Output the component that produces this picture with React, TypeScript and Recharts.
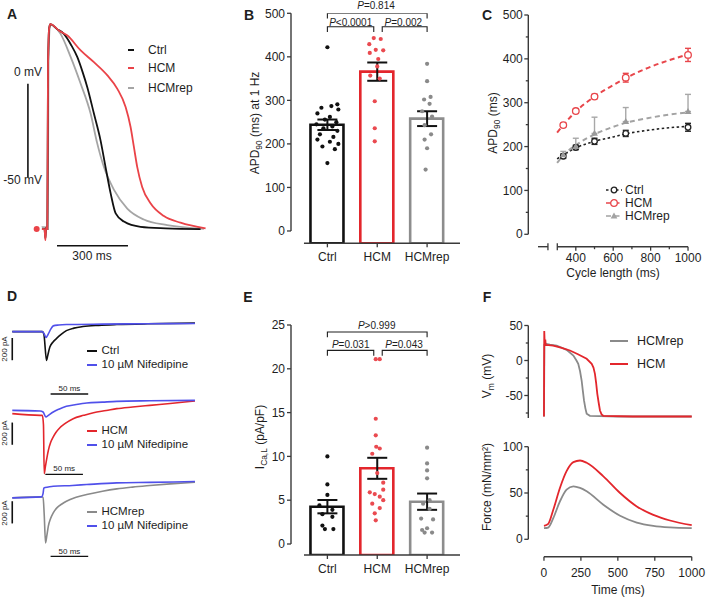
import React from 'react';
import {
  ComposedChart, LineChart, Line, Bar, Cell, Scatter, ErrorBar, XAxis, YAxis, ReferenceLine,
} from 'recharts';

const FONT = '"Liberation Sans", Arial, Helvetica, sans-serif';
const INK = '#1e1e1e';
const AXIS = '#3a3a3a';
const RED = '#e3262c';
const BLUE = '#5050ea';

// ---------- A: action potentials [t (ms), Vm (mV)]
const AP_CTRL = [[-45, -78], [-12, -78], [-8, -83], [-5, -77], [0, -78], [3, 10], [8, 30], [13, 32], [40, 29.5], [70, 26.8], [100, 21], [127, 14.3], [150, 6], [169, -1.8], [197, -16], [225, -30.4], [246, -44.6], [268, -59], [289, -69.6], [324, -74], [394, -76.8], [500, -77.6], [648, -78]];
const AP_HCM = [[-45, -78], [-12, -78], [-8, -84], [-5, -77], [0, -78], [3, 10], [8, 30], [13, 32], [50, 28.5], [85, 25.9], [141, 17.9], [197, 11.6], [254, 4.5], [296, -2.7], [331, -12.5], [352, -23.2], [366, -33.9], [380, -44.6], [401, -55.4], [437, -64.3], [493, -71], [563, -74.6], [669, -77.7]];
const AP_REP = [[-45, -77], [-12, -77], [-8, -80], [-5, -77], [2, -78], [5, 10], [10, 30], [14, 31.8], [56, 26.8], [99, 14.3], [141, 0], [183, -16], [211, -32], [239, -44.6], [282, -57], [338, -67], [408, -72.9], [507, -75.9], [662, -77.9]];
const AP_SCALE_MV = 50;
const AP_SCALE_MS = 300;

// ---------- B: APD90 at 1 Hz (ms)
const GROUPS = ['Ctrl', 'HCM', 'HCMrep'];
const B_MEAN = [244, 366, 258];
const B_SEM = [12, 21, 17];
const B_CTRL = [422, 291, 287, 283, 279, 270, 262, 256, 250, 245, 240, 236, 230, 222, 216, 210, 205, 200, 194, 188, 156];
const B_HCM = [443, 441, 429, 416, 415, 409, 395, 378, 357, 350, 298, 236, 206];
const B_REP = [384, 344, 308, 302, 292, 275, 263, 243, 222, 210, 190, 141];
const B_JIT = [
  [0, 0.2, 0.08, -0.12, 0.22, -0.2, 0.05, -0.05, 0.18, -0.22, 0.1, -0.08, 0.2, -0.15, 0.12, -0.2, 0.05, 0.22, -0.1, 0.15, 0],
  [-0.07, 0.07, -0.16, -0.03, 0.12, -0.15, 0.02, 0, -0.14, 0.05, -0.05, -0.05, -0.05],
  [0, 0, 0.07, -0.06, 0.05, -0.1, 0.1, -0.05, 0.08, -0.05, 0, -0.03],
];
const B_BRACKETS = [[1, 1.93, 469, 457], [2.1, 3, 469, 457], [1, 3, 500, 488]];
const B_P = ['<0.0001', '=0.002', '=0.814'];

// ---------- C: APD90 vs cycle length
const CL = [333, 400, 500, 667, 1000];
const C_CTRL = [178, 198, 212, 230, 244];
const C_CTRL_ERR = [5, 5, 7, 7, 9];
const C_HCM = [249, 281, 314, 357, 409];
const C_HCM_ERR = [4, 4, 5, 10, 15];
const C_REP = [181, 200, 230, 257, 280];
const C_REP_ERR_UP = [8, 19, 37, 32, 39];
const FIT_X = [300, 333, 400, 500, 600, 667, 800, 900, 1000];
const FIT_CTRL = [172, 181, 197, 212, 222, 229, 238, 243, 246];
const FIT_HCM = [232, 249, 280, 314, 340, 356, 382, 397, 410];
const FIT_REP = [163, 180, 203, 228, 245, 254, 266, 273, 278];

// ---------- D: I_Ca,L traces [t (ms), I (pA)]
const I_CTRL = [[0, 0], [40, 0], [42, -20], [45.6, -260], [47, -220], [50, -138], [54, -95], [59, -61], [65, -25], [72, 9], [82, 32], [94, 46], [115, 57], [139, 64], [180, 71], [243, 77]];
const I_CTRL_NIF = [[0, 0], [40, 0], [42, -15], [45, -51], [48, -20], [51, 20], [54.5, 52], [62, 60], [72, 64], [120, 68], [180, 71], [243, 73]];
const I_HCM = [[0, 0], [37, -15], [40, -15], [41.5, -100], [42.5, -540], [44, -480], [46, -400], [48, -330], [51, -260], [54.5, -210], [58, -170], [63, -129], [70, -90], [81, -45], [95, -15], [108, 9], [125, 28], [139, 45], [160, 60], [183, 75], [210, 92], [243, 114]];
const I_HCM_NIF = [[0, 30], [37, 24], [41, 15], [44.7, -30], [48, -15], [54.5, 15], [62, 40], [72, 66], [85, 82], [99, 96], [120, 104], [139, 111], [183, 116], [243, 120]];
const I_REP = [[0, 0], [39, 9], [41, 5], [42.5, -150], [44.3, -405], [46, -340], [48, -255], [51, -185], [54.5, -135], [60, -85], [66, -55], [72, -30], [85, 5], [99, 30], [120, 60], [139, 81], [160, 97], [183, 111], [210, 126], [243, 141]];
const I_REP_NIF = [[0, 0], [39, 9], [41, 40], [42, 90], [48, 98], [54.5, 105], [80, 112], [99, 120], [139, 135], [183, 140], [243, 147]];
const D_SCALE_PA = 200;
const D_SCALE_MS = 50;

// ---------- E: I_Ca,L density (pA/pF)
const E_MEAN = [4.26, 8.64, 4.83];
const E_SEM = [0.76, 1.2, 0.93];
const E_CTRL = [10.0, 6.8, 5.6, 4.4, 3.9, 3.4, 3.1, 2.1, 1.7, 1.7];
const E_HCM = [21.1, 21.1, 14.3, 12.4, 11.1, 10.9, 10.3, 8.1, 7.0, 6.2, 5.9, 5.7, 5.4, 5.0, 4.6, 4.1, 3.5, 2.7];
const E_REP = [11.0, 9.2, 8.4, 7.5, 5.0, 4.6, 4.0, 2.9, 2.8, 1.8, 1.6, 1.3, 1.3];
const E_JIT = [
  [0, 0, 0, -0.16, 0.1, -0.1, 0.1, -0.1, -0.05, 0.12],
  [-0.03, 0.05, -0.03, -0.03, -0.02, 0.05, -0.1, 0, 0.12, 0.12, -0.15, -0.05, 0.05, 0.12, -0.1, 0.05, -0.05, -0.03],
  [0, 0, 0, 0, 0.05, -0.08, 0.05, -0.12, 0.12, 0, -0.1, -0.05, 0.1],
];
const E_BRACKETS = [[1, 1.93, 22.1, 21.5], [2.1, 3, 22.1, 21.5], [1, 3, 24.2, 23.6]];
const E_P = ['=0.031', '=0.043', '>0.999'];

// ---------- F: model Vm and force [t (ms), value]
const VM_HCM = [[0, -80], [2, 42], [4, 30], [6, 22], [9, 30], [12, 22], [30, 22], [63, 21.4], [120, 18], [176, 14.3], [230, 9], [289, 2.4], [323, -4.8], [335, -10], [345, -19], [353, -32], [361, -47.6], [370, -60], [379, -71.4], [390, -77], [401, -79], [600, -80], [1000, -80]];
const VM_REP = [[0, -80], [3, 23], [10, 24], [40, 22.5], [86, 21.4], [153, 15.2], [199, 7.1], [220, 0], [232, -4.8], [244, -15], [255, -28.6], [263, -43], [271, -57], [280, -68], [289, -76], [311, -79], [500, -80], [1000, -80]];
const FORCE_HCM = [[0, 14.5], [29, 16.7], [63, 31.9], [108, 55.4], [153, 73.6], [199, 83.3], [244, 85.1], [289, 82.6], [402, 68], [515, 50], [628, 35.5], [740, 26.4], [853, 20.3], [1000, 15.2]];
const FORCE_REP = [[0, 12], [29, 12.7], [63, 22.8], [108, 40.9], [153, 53.6], [199, 57.2], [244, 55.5], [289, 51.8], [402, 37.3], [515, 25.4], [628, 18.1], [740, 14.5], [853, 12.8], [1000, 12]];

const xy = (arr: number[][]) => arr.map(([t, v]) => ({ t, v }));

// tick drawn by hand so minor ticks and the axis break can be shorter / crossing
function AxisTick(props: any) {
  const { x, y, payload, side, fmt, minor = [], brk = [], gap = 2 } = props;
  const v = payload.value;
  const isMinor = minor.includes(v);
  const isBrk = brk.includes(v);
  const len = isMinor ? 2.5 : 4;
  const label = isMinor || isBrk ? null : fmt ? fmt(v) : String(v);
  if (side === 'left') {
    return (
      <g>
        <line x1={x - len} x2={x} y1={y} y2={y} stroke={AXIS} strokeWidth={1.3} />
        {label !== null && (
          <text x={x - len - gap} y={y} dy="0.35em" textAnchor="end" fontSize={12} fontFamily={FONT} fill={INK}>{label}</text>
        )}
      </g>
    );
  }
  return (
    <g>
      <line x1={x} x2={x} y1={isBrk ? y - 3.5 : y} y2={y + (isBrk ? 3.5 : len)} stroke={AXIS} strokeWidth={1.3} />
      {label !== null && (
        <text x={x} y={y + len + gap} dy="0.71em" textAnchor="middle" fontSize={12} fontFamily={FONT} fill={INK}>{label}</text>
      )}
    </g>
  );
}

function Txt({ x, y, children, size = 12, anchor = 'middle', rotate = false, bold = false, color = INK }: any) {
  const tx = anchor === 'middle' ? '-50%' : anchor === 'end' ? '-100%' : '0%';
  return (
    <div
      style={{
        position: 'absolute', left: x, top: y, whiteSpace: 'nowrap', fontSize: size, lineHeight: 1,
        fontWeight: bold ? 700 : 400, color, fontFamily: FONT,
        transform: `translate(${tx}, -50%)${rotate ? ' rotate(-90deg)' : ''}`,
      }}
    >
      {children}
    </div>
  );
}

const Sub = ({ children }: any) => (
  <span style={{ fontSize: '0.7em', position: 'relative', top: '0.3em' }}>{children}</span>
);

const Swatch = ({ x, y, w, color }: any) => (
  <div style={{ position: 'absolute', left: x, top: y - 1, width: w, height: 2, background: color }} />
);

function PanelA() {
  return (
    <div style={{ position: 'absolute', left: 0, top: 0 }}>
      <LineChart width={220} height={270} margin={{ top: 0, right: 0, bottom: 0, left: 0 }}>
        <XAxis dataKey="t" type="number" domain={[-200, 730]} allowDataOverflow hide />
        <YAxis type="number" domain={[-100, 45]} allowDataOverflow hide />
        <ReferenceLine segment={[{ x: -82, y: 0 }, { x: -82, y: -AP_SCALE_MV }]} stroke="#111" strokeWidth={1.6} />
        <ReferenceLine segment={[{ x: 41, y: -87 }, { x: 41 + AP_SCALE_MS, y: -87 }]} stroke="#111" strokeWidth={1.6} />
        <Line data={xy(AP_REP)} dataKey="v" type="monotone" stroke="#a5a5a5" strokeWidth={1.8} dot={false} isAnimationActive={false} />
        <Line data={xy(AP_CTRL)} dataKey="v" type="monotone" stroke="#111" strokeWidth={1.8} dot={false} isAnimationActive={false} />
        <Line data={xy(AP_HCM)} dataKey="v" type="monotone" stroke="#ea4348" strokeWidth={1.8} dot={false} isAnimationActive={false} />
      </LineChart>
      <Txt x={42} y={72} anchor="end">0 mV</Txt>
      <Txt x={42} y={180} anchor="end">-50 mV</Txt>
      <Txt x={92} y={256}>300 ms</Txt>
      {[['Ctrl', '#111', 50], ['HCM', '#ea4348', 68], ['HCMrep', '#a5a5a5', 88]].map(([n, c, y]: any) => (
        <React.Fragment key={n}>
          <Swatch x={128} y={y} w={6} color={c} />
          <Txt x={148} y={y} anchor="start">{n}</Txt>
        </React.Fragment>
      ))}
    </div>
  );
}

const BAR_COLORS = ['#111', RED, '#8d8d8d'];

function DotBarPanel({ top, height, mTop, mBottom, yMin, yMax, yTicks, means, sems, sets, jit, brackets, dotColors }: any) {
  const X0 = 0.27;
  const X1 = 3.66;
  const bars = means.map((m: number, i: number) => ({ x: i + 1, range: [yMin, m] }));
  return (
    <ComposedChart width={230} height={height} data={bars} margin={{ top: mTop, right: 10, bottom: mBottom, left: 0 }}>
      <XAxis xAxisId="b" dataKey="x" type="number" domain={[X0, X1]} allowDataOverflow ticks={[1, 2, 3]} interval={0}
        height={20} tickSize={0} tickMargin={0} axisLine={false} tickLine={false}
        tick={<AxisTick side="bottom" gap={5} fmt={(v: number) => GROUPS[v - 1]} />} />
      <XAxis xAxisId="s" dataKey="x" type="number" domain={[X0, X1]} allowDataOverflow hide />
      <YAxis type="number" domain={[yMin, yMax]} allowDataOverflow ticks={yTicks} interval={0} width={51}
        tickSize={0} tickMargin={0} axisLine={false} tickLine={false} tick={<AxisTick side="left" gap={2} />} />
      <ReferenceLine xAxisId="s" segment={[{ x: X0, y: 0 }, { x: X0, y: yTicks[yTicks.length - 1] }]} stroke={AXIS} strokeWidth={1.4} />
      <ReferenceLine xAxisId="s" segment={[{ x: 0.53, y: yMin }, { x: X1, y: yMin }]} stroke={AXIS} strokeWidth={1.4} />
      <Bar xAxisId="b" dataKey="range" barSize={33} fill="#fff" strokeWidth={2.6} isAnimationActive={false}>
        {BAR_COLORS.map((c) => <Cell key={c} stroke={c} fill="#fff" />)}
      </Bar>
      {sets.map((vals: number[], g: number) => (
        <Scatter key={g} xAxisId="s" dataKey="y" isAnimationActive={false}
          data={vals.map((v, i) => ({ x: g + 1 + jit[g][i], y: v }))}
          shape={(p: any) => <circle cx={p.cx} cy={p.cy} r={2.1} fill={dotColors[g]} />} />
      ))}
      <Scatter xAxisId="s" dataKey="y" isAnimationActive={false}
        data={means.map((m: number, i: number) => ({ x: i + 1, y: m, e: sems[i] }))}
        shape={() => <g />}>
        <ErrorBar dataKey="e" direction="y" width={10} stroke="#111" strokeWidth={2} />
      </Scatter>
      {brackets.map(([a, b, y, tip]: number[], i: number) => (
        <Line key={i} xAxisId="s" dataKey="y" stroke={INK} strokeWidth={1.1} dot={false} isAnimationActive={false}
          data={[{ x: a, y: tip }, { x: a, y }, { x: b, y }, { x: b, y: tip }]} />
      ))}
    </ComposedChart>
  );
}

const PLabel = ({ x, y, text }: any) => (
  <Txt x={x} y={y} size={10}><i>P</i>{text}</Txt>
);

function CMarker({ kind, color, cx, cy }: any) {
  if (kind === 'tri') {
    return <path d={`M${cx},${cy - 3.6}L${cx + 3.4},${cy + 2.4}L${cx - 3.4},${cy + 2.4}Z`} fill={color} />;
  }
  return <circle cx={cx} cy={cy} r={kind === 'big' ? 3.3 : 2.8} fill="#fff" stroke={color} strokeWidth={1.3} />;
}

const C_STYLE = [
  { name: 'Ctrl', color: '#222', dash: '2.5 2.5', kind: 'small' },
  { name: 'HCM', color: '#e8464b', dash: '5 3.5', kind: 'big' },
  { name: 'HCMrep', color: '#a3a3a3', dash: '5 3.5', kind: 'tri' },
];

function PanelC() {
  const XMIN = 146;
  const XMAX = 1064;
  const YMIN = -28.3;
  const fits = [FIT_CTRL, FIT_HCM, FIT_REP];
  const pts = [
    CL.map((x, i) => ({ x, y: C_CTRL[i], e: C_CTRL_ERR[i] })),
    CL.map((x, i) => ({ x, y: C_HCM[i], e: C_HCM_ERR[i] })),
    CL.map((x, i) => ({ x, y: C_REP[i], e: [0, C_REP_ERR_UP[i]] })),
  ];
  return (
    <div style={{ position: 'absolute', left: 470, top: 0 }}>
      <ComposedChart width={239} height={270} margin={{ top: 15, right: 9, bottom: 3.3, left: 0 }}>
        <XAxis dataKey="x" type="number" domain={[XMIN, XMAX]} allowDataOverflow
          ticks={[251, 301, 400, 500, 600, 700, 800, 900, 1000]} interval={0} height={20}
          tickSize={0} tickMargin={0} axisLine={false} tickLine={false}
          tick={<AxisTick side="bottom" gap={3} minor={[500, 700, 900]} brk={[251, 301]} />} />
        <YAxis type="number" domain={[YMIN, 500]} allowDataOverflow ticks={[0, 50, 100, 150, 200, 250, 300, 350, 400, 450, 500]}
          interval={0} width={58.3} tickSize={0} tickMargin={0} axisLine={false} tickLine={false}
          tick={<AxisTick side="left" gap={1.5} minor={[50, 150, 250, 350, 450]} />} />
        <ReferenceLine segment={[{ x: XMIN, y: 0 }, { x: XMIN, y: 500 }]} stroke={AXIS} strokeWidth={1.4} />
        <ReferenceLine segment={[{ x: 198, y: YMIN }, { x: 251, y: YMIN }]} stroke={AXIS} strokeWidth={1.4} />
        <ReferenceLine segment={[{ x: 301, y: YMIN }, { x: 1000, y: YMIN }]} stroke={AXIS} strokeWidth={1.4} />
        {fits.map((f, g) => (
          <Line key={'f' + g} data={FIT_X.map((x, i) => ({ x, y: f[i] }))} dataKey="y" type="monotone"
            stroke={C_STYLE[g].color} strokeWidth={g === 0 ? 1.6 : 2} strokeDasharray={C_STYLE[g].dash}
            dot={false} isAnimationActive={false} />
        ))}
        {pts.map((d, g) => (
          <Scatter key={'p' + g} data={d} dataKey="y" isAnimationActive={false}
            shape={(p: any) => <CMarker kind={C_STYLE[g].kind} color={g === 2 ? '#9a9a9a' : C_STYLE[g].color} cx={p.cx} cy={p.cy} />}>
            <ErrorBar dataKey="e" direction="y" width={3} stroke={g === 2 ? '#a8a8a8' : C_STYLE[g].color} strokeWidth={1.4} />
          </Scatter>
        ))}
      </ComposedChart>
      {C_STYLE.map((s, i) => (
        <React.Fragment key={s.name}>
          <svg width={16} height={10} style={{ position: 'absolute', left: 136, top: 185 + i * 13 }}>
            <line x1={0} x2={16} y1={5} y2={5} stroke={s.color} strokeWidth={1.5} strokeDasharray={s.dash} />
            <CMarker kind={s.kind} color={s.color} cx={8} cy={5} />
          </svg>
          <Txt x={155} y={190 + i * 13} anchor="start">{s.name}</Txt>
        </React.Fragment>
      ))}
    </div>
  );
}

const D_ROWS = [
  { top: 305, domain: [-620, 240], main: I_CTRL, nif: I_CTRL_NIF, color: '#111', name: 'Ctrl', bar: -57, tbar: [51, -561], leg: 351 },
  { top: 396.6, domain: [-640, 150], main: I_HCM, nif: I_HCM_NIF, color: RED, name: 'HCM', bar: -80, tbar: [44, -546], leg: 431 },
  { top: 479.4, domain: [-560, 170], main: I_REP, nif: I_REP_NIF, color: '#8a8a8a', name: 'HCMrep', bar: -30, tbar: [51, -526], leg: 511.5 },
];

function PanelD() {
  return (
    <>
      {D_ROWS.map((r) => {
        const h = (r.domain[1] - r.domain[0]) / 9;
        return (
          <div key={r.name} style={{ position: 'absolute', left: 10, top: r.top }}>
            <LineChart width={190} height={h} margin={{ top: 0, right: 0, bottom: 0, left: 0 }}>
              <XAxis dataKey="t" type="number" domain={[-3, 249.7]} allowDataOverflow hide />
              <YAxis type="number" domain={r.domain} allowDataOverflow hide />
              <ReferenceLine segment={[{ x: 0, y: r.bar }, { x: 0, y: r.bar - D_SCALE_PA }]} stroke="#111" strokeWidth={1.6} />
              <ReferenceLine segment={[{ x: r.tbar[0], y: r.tbar[1] }, { x: r.tbar[0] + D_SCALE_MS, y: r.tbar[1] }]} stroke="#111" strokeWidth={1.3} />
              <Line data={xy(r.main)} dataKey="v" type="monotone" stroke={r.color} strokeWidth={1.6} dot={false} isAnimationActive={false} />
              <Line data={xy(r.nif)} dataKey="v" type="monotone" stroke={BLUE} strokeWidth={1.6} dot={false} isAnimationActive={false} />
            </LineChart>
          </div>
        );
      })}
      {D_ROWS.map((r) => {
        const baseY = r.top + r.domain[1] / 9;
        return (
          <React.Fragment key={'t' + r.name}>
            <Txt x={5} y={baseY + (-r.bar + D_SCALE_PA / 2) / 9} size={8} rotate>200 pA</Txt>
            <Txt x={12.3 + (r.tbar[0] + D_SCALE_MS / 2) * 0.752} y={baseY - r.tbar[1] / 9 - 5} size={8}>50 ms</Txt>
            <Swatch x={87} y={r.leg} w={10} color={r.color} />
            <Txt x={101.5} y={r.leg} size={11.5} anchor="start">{r.name}</Txt>
            <Swatch x={87} y={r.leg + 14} w={10} color={BLUE} />
            <Txt x={101.5} y={r.leg + 14} size={11.5} anchor="start">10 µM Nifedipine</Txt>
          </React.Fragment>
        );
      })}
    </>
  );
}

function PanelF() {
  const XMIN = -106;
  const XMAX = 1056;
  const FMIN = -18.8;
  return (
    <>
      <div style={{ position: 'absolute', left: 470, top: 310 }}>
        <LineChart width={239} height={115} margin={{ top: 15.5, right: 9, bottom: 7.1, left: 0 }}>
          <XAxis dataKey="t" type="number" domain={[XMIN, XMAX]} allowDataOverflow hide />
          <YAxis type="number" domain={[-82, 50]} allowDataOverflow ticks={[-75, -50, -25, 0, 25, 50]} interval={0}
            width={58.3} tickSize={0} tickMargin={0} axisLine={{ stroke: AXIS, strokeWidth: 1.4 }} tickLine={false}
            tick={<AxisTick side="left" gap={1.5} minor={[-75, -25, 25]} />} />
          <Line data={xy(VM_REP)} dataKey="v" type="linear" stroke="#8a8a8a" strokeWidth={1.8} dot={false} isAnimationActive={false} />
          <Line data={xy(VM_HCM)} dataKey="v" type="linear" stroke={RED} strokeWidth={1.8} dot={false} isAnimationActive={false} />
        </LineChart>
      </div>
      <div style={{ position: 'absolute', left: 470, top: 430 }}>
        <LineChart width={239} height={170} margin={{ top: 16.7, right: 9, bottom: 13.3, left: 0 }}>
          <XAxis dataKey="t" type="number" domain={[XMIN, XMAX]} allowDataOverflow ticks={[0, 250, 500, 750, 1000]} interval={0}
            height={30} tickSize={0} tickMargin={0} axisLine={false} tickLine={false}
            tick={<AxisTick side="bottom" gap={8} />} />
          <YAxis type="number" domain={[FMIN, 100]} allowDataOverflow ticks={[0, 25, 50, 75, 100]} interval={0}
            width={58.3} tickSize={0} tickMargin={0} axisLine={false} tickLine={false}
            tick={<AxisTick side="left" gap={1.5} minor={[25, 75]} />} />
          <ReferenceLine segment={[{ x: XMIN, y: 0 }, { x: XMIN, y: 100 }]} stroke={AXIS} strokeWidth={1.4} />
          <ReferenceLine segment={[{ x: 0, y: FMIN }, { x: 1000, y: FMIN }]} stroke={AXIS} strokeWidth={1.4} />
          <Line data={xy(FORCE_REP)} dataKey="v" type="monotone" stroke="#8a8a8a" strokeWidth={1.8} dot={false} isAnimationActive={false} />
          <Line data={xy(FORCE_HCM)} dataKey="v" type="monotone" stroke={RED} strokeWidth={1.8} dot={false} isAnimationActive={false} />
        </LineChart>
      </div>
      <Swatch x={610} y={341} w={18} color="#8a8a8a" />
      <Txt x={637} y={341} anchor="start" size={12.5}>HCMrep</Txt>
      <Swatch x={610} y={364} w={18} color={RED} />
      <Txt x={637} y={364} anchor="start" size={12.5}>HCM</Txt>
      <Txt x={487} y={376} rotate>V<Sub>m</Sub> (mV)</Txt>
      <Txt x={487} y={487} rotate>Force (mN/mm²)</Txt>
      <Txt x={618} y={590}>Time (ms)</Txt>
    </>
  );
}

export default function App() {
  return (
    <div style={{ position: 'absolute', left: 0, top: 0, width: 709, height: 600, background: '#fff', overflow: 'hidden', fontFamily: FONT }}>
      <PanelA />
      <div style={{ position: 'absolute', left: 240, top: 0 }}>
        <DotBarPanel top={0} height={270} mTop={13.3} mBottom={6.7} yMin={-28.3} yMax={500} yTicks={[0, 100, 200, 300, 400, 500]}
          means={B_MEAN} sems={B_SEM} sets={[B_CTRL, B_HCM, B_REP]} jit={B_JIT} brackets={B_BRACKETS}
          dotColors={['#111', '#ea4a50', '#8a8a8a']} />
      </div>
      <PLabel x={350.7} y={22.7} text={B_P[0]} />
      <PLabel x={403.3} y={22.7} text={B_P[1]} />
      <PLabel x={376} y={6} text={B_P[2]} />
      <Txt x={255} y={123} rotate>APD<Sub>90</Sub> (ms) at 1 Hz</Txt>

      <PanelC />
      <Txt x={493} y={123} rotate>APD<Sub>90</Sub> (ms)</Txt>
      <Txt x={613} y={273}>Cycle length (ms)</Txt>

      <PanelD />

      <div style={{ position: 'absolute', left: 240, top: 300 }}>
        <DotBarPanel top={300} height={280} mTop={25} mBottom={5} yMin={-1.256} yMax={25} yTicks={[0, 5, 10, 15, 20, 25]}
          means={E_MEAN} sems={E_SEM} sets={[E_CTRL, E_HCM, E_REP]} jit={E_JIT} brackets={E_BRACKETS}
          dotColors={['#111', '#ea4a50', '#8a8a8a']} />
      </div>
      <PLabel x={350.7} y={345} text={E_P[0]} />
      <PLabel x={404} y={345} text={E_P[1]} />
      <PLabel x={376.7} y={326} text={E_P[2]} />
      <Txt x={260} y={437} rotate>I<Sub>Ca,L</Sub> (pA/pF)</Txt>

      <PanelF />

      <Txt x={12} y={14} size={14} bold>A</Txt>
      <Txt x={249} y={15} size={14} bold>B</Txt>
      <Txt x={487} y={15} size={14} bold>C</Txt>
      <Txt x={12} y={296} size={14} bold>D</Txt>
      <Txt x={248} y={297} size={14} bold>E</Txt>
      <Txt x={487} y={297} size={14} bold>F</Txt>
    </div>
  );
}
